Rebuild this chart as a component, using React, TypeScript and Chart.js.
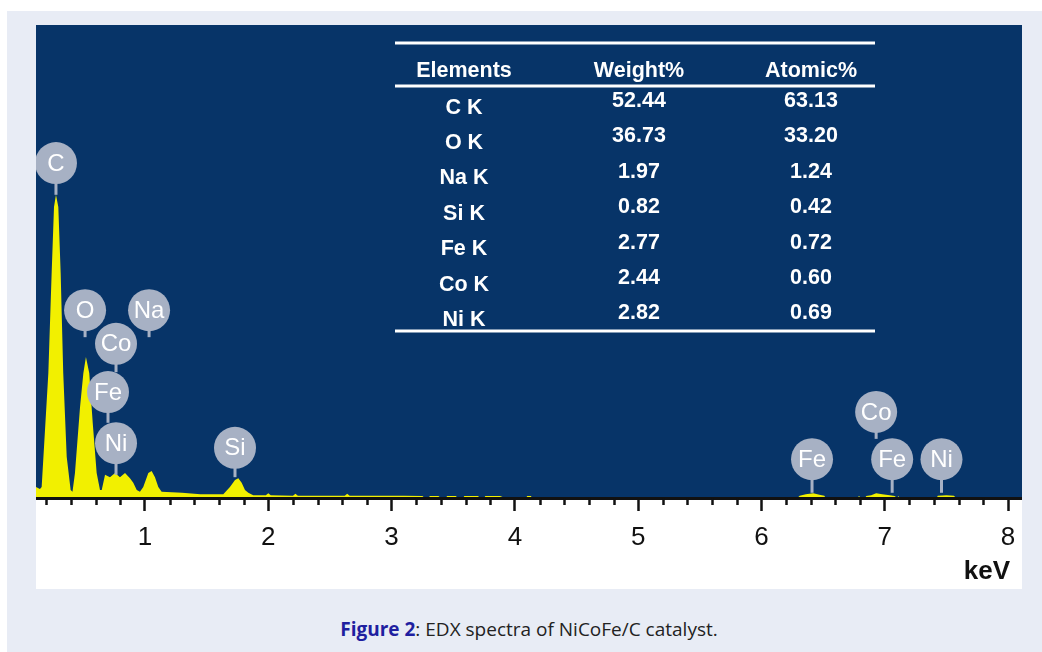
import React, { useEffect, useRef } from 'react';
import { Chart, registerables } from 'chart.js';

Chart.register(...registerables);

// Spectrum (energy in keV, intensity in arbitrary counts)
const energyKeV = [
  0.116, 0.148, 0.162, 0.189, 0.216, 0.243, 0.262, 0.278, 0.297, 0.316, 0.337, 0.365, 0.397,
  0.412, 0.432, 0.473, 0.5, 0.521, 0.548, 0.576, 0.608, 0.635, 0.649, 0.676, 0.716, 0.757,
  0.797, 0.838, 0.878, 0.905, 0.933, 0.959, 0.986, 1.027, 1.054, 1.081, 1.108, 1.135, 1.3,
  1.45, 1.6, 1.635, 1.689, 1.73, 1.757, 1.784, 1.811, 1.838, 1.878, 1.9, 1.98, 2.0, 2.02,
  2.2, 2.22, 2.24, 2.45, 2.62, 2.64, 2.66, 2.9, 3.1, 3.25, 3.27, 3.3, 3.31, 3.38, 3.4, 3.44,
  3.45, 3.52, 3.54, 3.58, 3.59, 3.7, 3.72, 3.75, 3.76, 3.88, 3.92, 4.09, 4.1, 4.13, 4.14,
  6.29, 6.31, 6.36, 6.42, 6.47, 6.51, 6.52, 6.78, 6.79, 6.81, 6.84, 6.85, 6.89, 6.93, 6.98,
  7.04, 7.08, 7.1, 7.11, 7.12, 7.42, 7.43, 7.5, 7.56, 7.58, 8.113,
];
const counts = [
  23, 19, 23, 144, 264, 476, 615, 641, 615, 476, 264, 87, 17,
  13, 53, 192, 264, 298, 264, 159, 53, 17, 17, 49, 44, 53,
  44, 53, 42, 32, 17, 13, 23, 53, 57, 44, 23, 13, 11,
  8, 8, 8, 23, 38, 42, 32, 17, 11, 6, 6, 6, 10, 6,
  5, 9, 5, 5, 5, 9, 5, 5, 5, 4, 0, 0, 4, 4, 0, 0,
  4, 4, 0, 0, 4, 4, 0, 0, 4, 4, 0, 0, 4, 4, 0,
  0, 5, 8, 10, 7, 5, 0, 0, 4, 0, 0, 4, 6, 10, 8,
  6, 4, 0, 4, 0, 0, 5, 6, 5, 0, 0,
];

// Axis ticks
const tickValues = [
  0.2, 0.4, 0.6, 0.8, 1, 1.2, 1.4, 1.6, 1.8, 2, 2.2, 2.4, 2.6, 2.8, 3, 3.2, 3.4, 3.6, 3.8, 4,
  4.2, 4.4, 4.6, 4.8, 5, 5.2, 5.4, 5.6, 5.8, 6, 6.2, 6.4, 6.6, 6.8, 7, 7.2, 7.4, 7.6, 7.8, 8,
];
const majorTickValues = [1, 2, 3, 4, 5, 6, 7, 8];

// Peak labels
const peakElements = ['C', 'O', 'Na', 'Co', 'Fe', 'Ni', 'Si', 'Fe', 'Co', 'Fe', 'Ni'];
const peakKeV = [0.278, 0.514, 1.033, 0.765, 0.7, 0.765, 1.73, 6.41, 6.93, 7.06, 7.46];
const peakBadgeLevel = [708, 397, 397, 326, 224, 116, 106, 82, 182, 82, 82];
const peakStemEnd = [641, 340, 340, 266, 159, 49, 44, 11, 125, 11, 11];

// Composition table
const tableHeaders = ['Elements', 'Weight%', 'Atomic%'];
const tableElements = ['C K', 'O K', 'Na K', 'Si K', 'Fe K', 'Co K', 'Ni K'];
const tableWeight = ['52.44', '36.73', '1.97', '0.82', '2.77', '2.44', '2.82'];
const tableAtomic = ['63.13', '33.20', '1.24', '0.42', '0.72', '0.60', '0.69'];

const X_MIN = 0.116;
const X_MAX = 8.113;
const Y_MAX = 1000;

const NAVY = '#073468';
const YELLOW = '#f2f000';
const BADGE = '#a7b1c4';

const isMajor = (v: number) => majorTickValues.some((m) => Math.abs(m - v) < 1e-6);

export default function App() {
  const canvasRef = useRef<HTMLCanvasElement | null>(null);

  useEffect(() => {
    const canvas = canvasRef.current;
    if (!canvas) return;

    const backgroundPlugin = {
      id: 'areaBg',
      beforeDraw(chart: any) {
        const { ctx, chartArea } = chart;
        ctx.save();
        ctx.fillStyle = NAVY;
        ctx.fillRect(chartArea.left, chartArea.top, chartArea.right - chartArea.left, chartArea.bottom - chartArea.top);
        ctx.restore();
      },
    };

    const decorPlugin = {
      id: 'decor',
      afterDraw(chart: any) {
        const { ctx, chartArea } = chart;
        const xs = chart.scales.x;
        const ys = chart.scales.y;
        ctx.save();

        // minor ticks
        ctx.strokeStyle = '#111';
        ctx.lineWidth = 2.5;
        tickValues.forEach((v) => {
          if (isMajor(v)) return;
          const px = Math.round(xs.getPixelForValue(v)) + 0.5;
          ctx.beginPath();
          ctx.moveTo(px, chartArea.bottom);
          ctx.lineTo(px, chartArea.bottom + 7);
          ctx.stroke();
        });

        // keV unit
        ctx.fillStyle = '#111';
        ctx.font = 'bold 26px "Liberation Sans", Arial, sans-serif';
        ctx.textAlign = 'right';
        ctx.textBaseline = 'alphabetic';
        ctx.fillText('keV', chartArea.right - 12, chartArea.bottom + 81);

        // peak badges
        const r = 21;
        peakElements.forEach((el, i) => {
          const px = xs.getPixelForValue(peakKeV[i]);
          const cy = ys.getPixelForValue(peakBadgeLevel[i]);
          const sy = ys.getPixelForValue(peakStemEnd[i]);
          ctx.strokeStyle = BADGE;
          ctx.lineWidth = 3;
          ctx.beginPath();
          ctx.moveTo(px, cy);
          ctx.lineTo(px, sy);
          ctx.stroke();
          ctx.fillStyle = BADGE;
          ctx.beginPath();
          ctx.arc(px, cy, r, 0, Math.PI * 2);
          ctx.fill();
          ctx.fillStyle = '#ffffff';
          ctx.font = '24px "Liberation Sans", Arial, sans-serif';
          ctx.textAlign = 'center';
          ctx.textBaseline = 'middle';
          ctx.fillText(el, px, cy + 1);
        });

        // composition table
        const tl = chartArea.left + 359;
        const tr = chartArea.left + 839;
        const t0 = chartArea.top;
        ctx.strokeStyle = '#ffffff';
        ctx.lineWidth = 3;
        [18, 61, 306].forEach((yy) => {
          ctx.beginPath();
          ctx.moveTo(tl, t0 + yy);
          ctx.lineTo(tr, t0 + yy);
          ctx.stroke();
        });
        const cols = [428, 603, 775].map((c) => chartArea.left + c);
        ctx.fillStyle = '#ffffff';
        ctx.font = 'bold 21.5px "Liberation Sans", Arial, sans-serif';
        ctx.textAlign = 'center';
        ctx.textBaseline = 'alphabetic';
        tableHeaders.forEach((h, i) => ctx.fillText(h, cols[i], t0 + 52));
        tableElements.forEach((e, i) => {
          ctx.fillText(e, cols[0], t0 + 88.5 + i * 35.4);
          ctx.fillText(tableWeight[i], cols[1], t0 + 82 + i * 35.4);
          ctx.fillText(tableAtomic[i], cols[2], t0 + 82 + i * 35.4);
        });
        ctx.restore();
      },
    };

    const chart = new Chart(canvas, {
      type: 'line',
      data: {
        datasets: [
          {
            data: energyKeV.map((x, i) => ({ x, y: counts[i] })),
            borderWidth: 0,
            pointRadius: 0,
            fill: 'origin',
            backgroundColor: YELLOW,
            borderColor: YELLOW,
            tension: 0,
          },
        ],
      },
      options: {
        animation: false,
        responsive: false,
        maintainAspectRatio: false,
        devicePixelRatio: 1,
        layout: { padding: 0 },
        plugins: { legend: { display: false }, tooltip: { enabled: false } },
        scales: {
          x: {
            type: 'linear',
            position: 'bottom',
            min: X_MIN,
            max: X_MAX,
            afterBuildTicks: (scale: any) => {
              scale.ticks = tickValues.map((v) => ({ value: v }));
            },
            afterFit: (scale: any) => {
              scale.height = 91;
              scale.paddingLeft = 0;
              scale.paddingRight = 0;
            },
            ticks: {
              autoSkip: false,
              maxRotation: 0,
              minRotation: 0,
              padding: 11,
              color: '#111',
              font: { family: '"Liberation Sans", Arial, sans-serif', size: 26 },
              callback: (v: any) => (isMajor(Number(v)) ? String(Math.round(Number(v))) : ''),
            },
            grid: {
              drawOnChartArea: false,
              drawTicks: true,
              tickLength: 13,
              tickWidth: 2.5,
              tickColor: (ctx: any) => (ctx.tick && isMajor(ctx.tick.value) ? '#111' : 'rgba(0,0,0,0)'),
            },
            border: { display: true, color: '#111', width: 3, z: 1 },
          },
          y: { display: false, min: 0, max: Y_MAX },
        },
      },
      plugins: [backgroundPlugin, decorPlugin],
    });

    return () => chart.destroy();
  }, []);

  return (
    <div style={{ position: 'fixed', left: 0, top: 0, width: 1042, height: 652, background: '#ffffff', overflow: 'hidden' }}>
      <div style={{ position: 'absolute', left: 7, top: 11, width: 1035, height: 641, background: '#e8ecf5' }} />
      <div style={{ position: 'absolute', left: 36, top: 25, width: 986, height: 564, background: '#ffffff' }}>
        <canvas ref={canvasRef} width={986} height={564} style={{ width: 986, height: 564, display: 'block' }} />
      </div>
      <div
        style={{
          position: 'absolute',
          left: 36,
          width: 986,
          top: 618,
          textAlign: 'center',
          fontFamily: '"Open Sans", Lato, sans-serif',
          fontSize: 19,
          lineHeight: '22px',
          color: '#222',
        }}
      >
        <span style={{ fontWeight: 'bold', color: '#1f1fa0' }}>Figure 2</span>: EDX spectra of NiCoFe/C catalyst.
      </div>
    </div>
  );
}
